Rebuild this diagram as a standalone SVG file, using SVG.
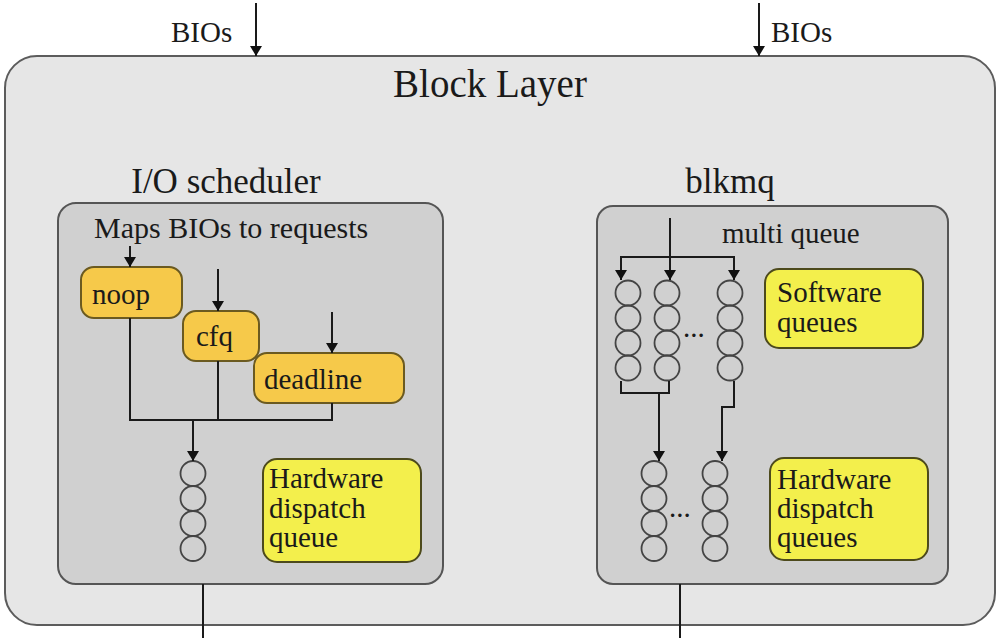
<svg xmlns="http://www.w3.org/2000/svg" width="999" height="638" viewBox="0 0 999 638">
<style>
text{font-family:"Liberation Serif","Times New Roman",serif;fill:#1a1a1a}
.t{font-size:29px}
.outer{fill:#e6e6e6;stroke:#5c5c5c;stroke-width:2}
.inner{fill:#d0d0d0;stroke:#555;stroke-width:2}
.gold{fill:#f6c94a;stroke:#6b5a20;stroke-width:2}
.yel{fill:#f3ef4c;stroke:#4d4a1c;stroke-width:2}
.q{fill:none;stroke:#444;stroke-width:1.8}
.ln{fill:none;stroke:#1a1a1a;stroke-width:2}
</style>
<defs>
<marker id="ah" viewBox="0 0 10 12" refX="10" refY="6" markerWidth="10" markerHeight="12" markerUnits="userSpaceOnUse" orient="auto">
<path d="M0,0 L10,6 L0,12 Z" fill="#111"/>
</marker>
<g id="col">
<circle cx="0" cy="0" r="12.5"/>
<circle cx="0" cy="25" r="12.5"/>
<circle cx="0" cy="50" r="12.5"/>
<circle cx="0" cy="75" r="12.5"/>
</g>
</defs>

<g id="block-layer">
<rect class="outer" x="5" y="56" width="990" height="569" rx="32"/>
<text x="490" y="97" font-size="39" text-anchor="middle">Block Layer</text>
</g>

<g id="bios-left"><text class="t" x="171" y="42">BIOs</text></g>
<g id="bios-right"><text class="t" x="771" y="42">BIOs</text></g>

<g id="io-scheduler">
<text x="226" y="193" font-size="35" text-anchor="middle">I/O scheduler</text>
<rect class="inner" x="58" y="203" width="385" height="381" rx="18"/>
<text x="94" y="238" font-size="30">Maps BIOs to requests</text>
</g>

<g id="noop"><rect class="gold" x="81" y="267" width="101" height="51" rx="13"/><text class="t" x="92" y="304">noop</text></g>
<g id="cfq"><rect class="gold" x="183" y="311" width="76" height="50" rx="13"/><text class="t" x="196" y="346">cfq</text></g>
<g id="deadline"><rect class="gold" x="254" y="353" width="150" height="50" rx="13"/><text class="t" x="264" y="389">deadline</text></g>

<g id="hw-queue-left" class="q"><use href="#col" x="193" y="473.5"/></g>
<g id="hw-label-left"><rect class="yel" x="263" y="459" width="158" height="103" rx="14"/>
<text class="t" x="269" y="488">Hardware</text><text class="t" x="269" y="518">dispatch</text><text class="t" x="269" y="547">queue</text></g>

<g id="blkmq">
<text x="730" y="193" font-size="35" text-anchor="middle">blkmq</text>
<rect class="inner" x="597" y="206" width="351" height="378" rx="16"/>
<text class="t" x="722" y="243">multi queue</text>
</g>

<g id="sw-queues" class="q">
<use href="#col" x="628" y="293"/>
<use href="#col" x="667" y="293"/>
<use href="#col" x="730" y="293"/>
</g>
<text class="t" x="683" y="337">...</text>
<g id="sw-label"><rect class="yel" x="765" y="269" width="158" height="79" rx="14"/>
<text class="t" x="777" y="302">Software</text><text class="t" x="777" y="332">queues</text></g>

<g id="hw-queues-right" class="q">
<use href="#col" x="654" y="473.5"/>
<use href="#col" x="715" y="473.5"/>
</g>
<text class="t" x="669" y="517">...</text>
<g id="hw-label-right"><rect class="yel" x="770" y="458" width="158" height="102" rx="14"/>
<text class="t" x="777" y="489">Hardware</text><text class="t" x="777" y="518">dispatch</text><text class="t" x="777" y="547">queues</text></g>

<g id="connectors" class="ln">
<path d="M256,3 V56" marker-end="url(#ah)"/>
<path d="M759,3 V56" marker-end="url(#ah)"/>
<path d="M130,246 V267" marker-end="url(#ah)"/>
<path d="M218,269 V311" marker-end="url(#ah)"/>
<path d="M332,312 V353" marker-end="url(#ah)"/>
<path d="M130,318 V420 H332 V403"/>
<path d="M218,361 V420"/>
<path d="M193,420 V461" marker-end="url(#ah)"/>
<path d="M203,584 V638"/>
<path d="M670,218 V280" marker-end="url(#ah)"/>
<path d="M621,268 V257 H734 V268"/>
<path d="M621,257 V280" marker-end="url(#ah)"/>
<path d="M734,257 V280" marker-end="url(#ah)"/>
<path d="M621,381 V393 H669 V381"/>
<path d="M659,393 V461" marker-end="url(#ah)"/>
<path d="M734,381 V407 H722 V461" marker-end="url(#ah)"/>
<path d="M680,584 V638"/>
</g>
</svg>
